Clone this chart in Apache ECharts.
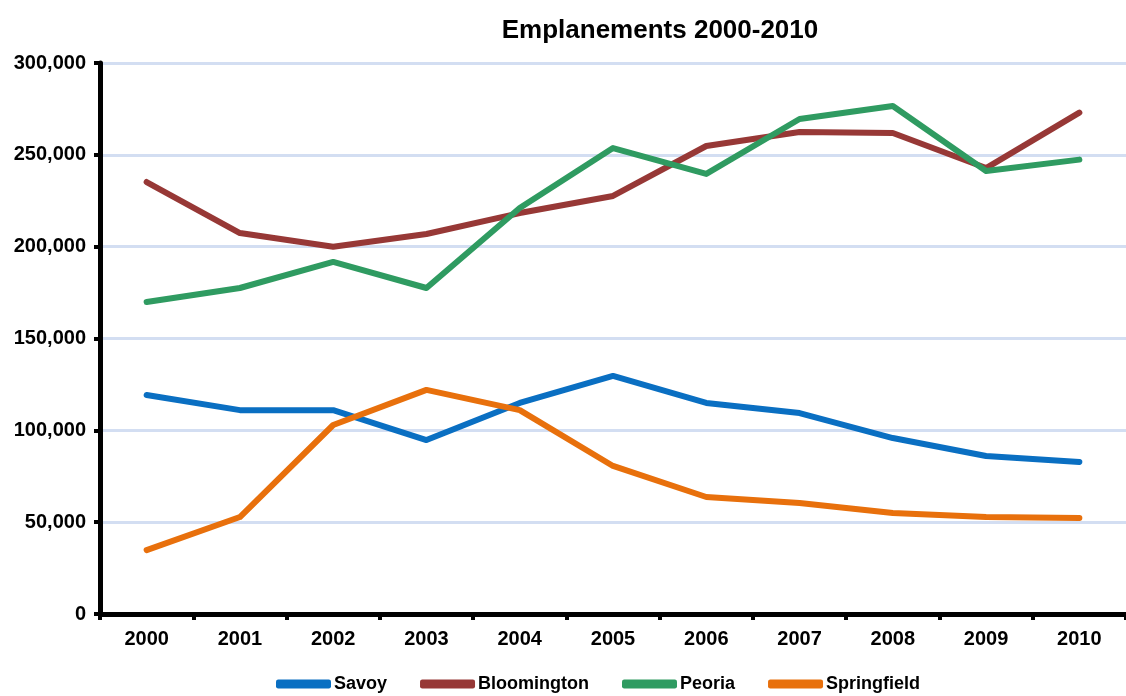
<!DOCTYPE html>
<html>
<head>
<meta charset="utf-8">
<script src="https://cdn.jsdelivr.net/npm/echarts@6/dist/echarts.min.js"></script>
<style>
  html, body { margin: 0; padding: 0; background: #fff; }
  #main { width: 1126px; height: 696px; }
</style>
</head>
<body>
<div id="main"></div>
<script>
// data
var years = ['2000', '2001', '2002', '2003', '2004', '2005', '2006', '2007', '2008', '2009', '2010'];
var savoy = [119200, 111000, 111000, 94700, 114900, 129600, 114900, 109400, 95800, 86000, 82800];
var bloomington = [235200, 207400, 200000, 206900, 218300, 227600, 254800, 262400, 261900, 242800, 273000];
var peoria = [169900, 177500, 191700, 177500, 221100, 253700, 239600, 269500, 276600, 241200, 247400];
var springfield = [34800, 52800, 102900, 122000, 111000, 80600, 63700, 60400, 55000, 52800, 52300];

var chart = echarts.init(document.getElementById('main'));

function line(name, data, color) {
    return {
        name: name,
        type: 'line',
        data: data,
        showSymbol: false,
        lineStyle: { color: color, width: 6, cap: 'round', join: 'round' },
        itemStyle: { color: color }
    };
}

var option = {
    animation: false,
    textStyle: { fontFamily: 'Liberation Sans', fontWeight: 'bold' },
    title: {
        text: 'Emplanements 2000-2010',
        left: 655,
        top: 13,
        textAlign: 'center',
        textStyle: { fontSize: 26, fontWeight: 'bold', color: '#000', fontFamily: 'Liberation Sans' }
    },
    legend: {
        bottom: -2,
        left: 271,
        itemWidth: 55,
        itemHeight: 9,
        itemGap: 33,
        icon: 'roundRect',
        textStyle: { fontSize: 18, fontWeight: 'bold', color: '#000', padding: [0, 0, 0, -2] },
        data: ['Savoy', 'Bloomington', 'Peoria', 'Springfield']
    },
    grid: { left: 100, right: -9, top: 63, bottom: 82 },
    xAxis: {
        type: 'category',
        data: years,
        boundaryGap: true,
        axisLine: { lineStyle: { color: '#000', width: 5 } },
        axisTick: { show: true, length: 6, lineStyle: { color: '#000', width: 4 } },
        axisLabel: { fontSize: 20, fontWeight: 'bold', color: '#000', margin: 15 }
    },
    yAxis: {
        type: 'value',
        min: 0,
        max: 300000,
        interval: 50000,
        axisLine: { show: true, lineStyle: { color: '#000', width: 5 } },
        axisTick: { show: true, length: 6, lineStyle: { color: '#000', width: 4 } },
        axisLabel: {
            fontSize: 20, fontWeight: 'bold', color: '#000', margin: 14,
            formatter: function (v) { return v.toLocaleString('en-US'); }
        },
        splitLine: { lineStyle: { color: '#d3def2', width: 3 } }
    },
    series: [
        line('Savoy', savoy, '#0a6fc2'),
        line('Bloomington', bloomington, '#973836'),
        line('Peoria', peoria, '#2f9b61'),
        line('Springfield', springfield, '#e8700c')
    ]
};
chart.setOption(option);
</script>
</body>
</html>
